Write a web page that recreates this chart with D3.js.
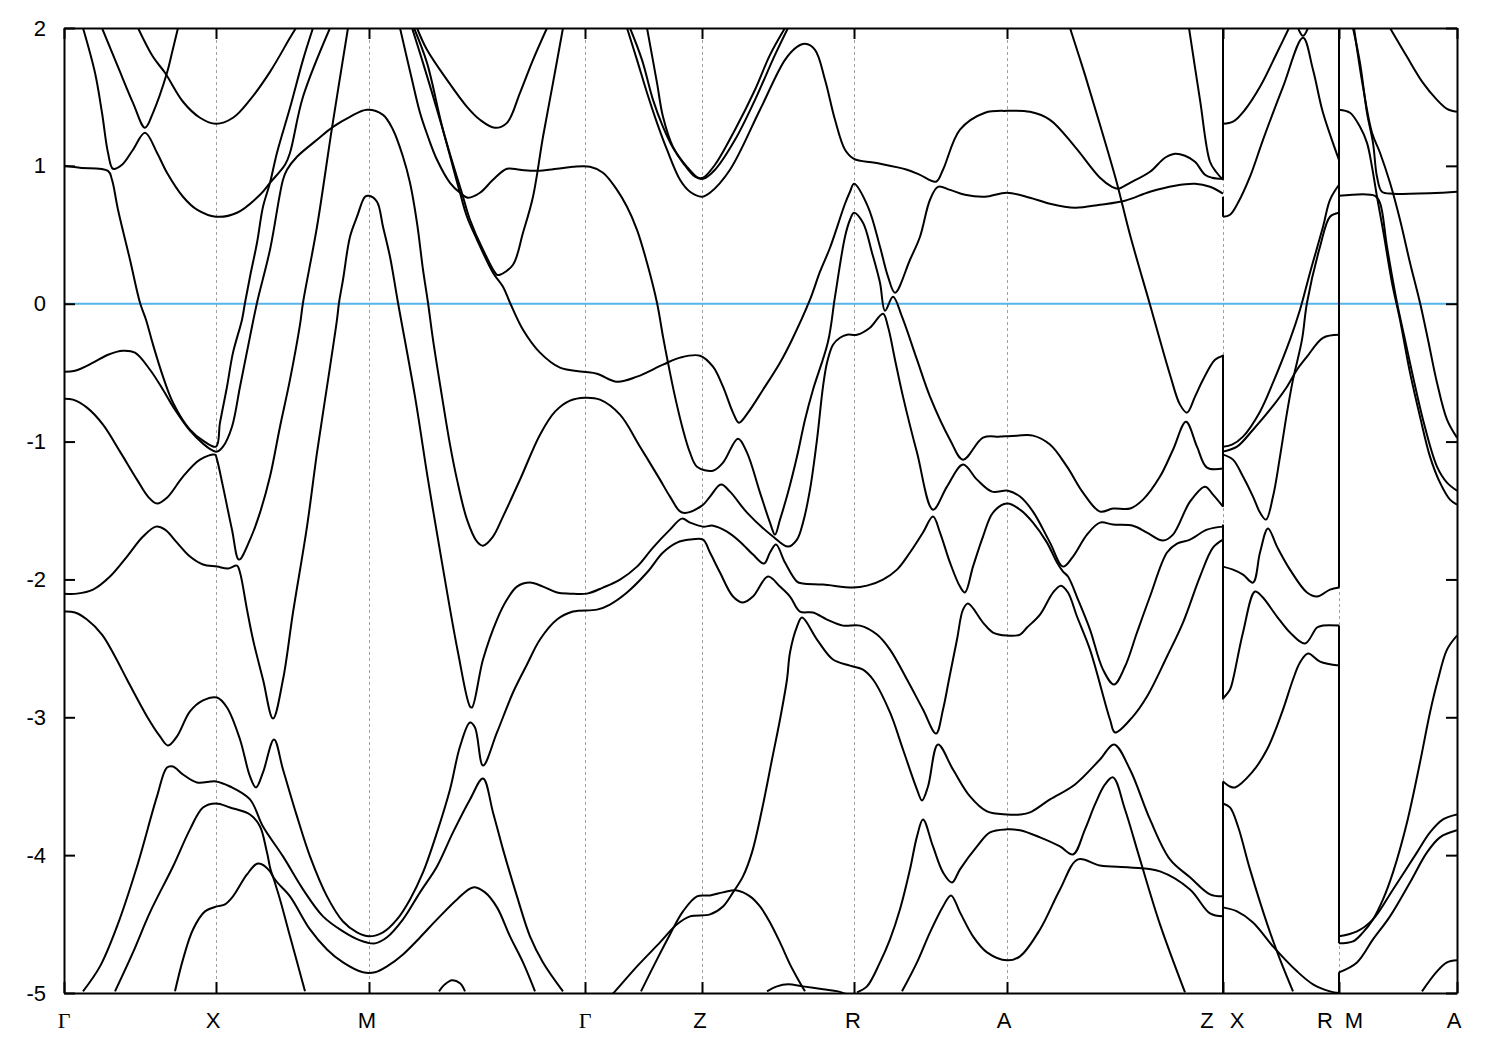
<!DOCTYPE html>
<html>
<head>
<meta charset="utf-8">
<script src="https://cdn.jsdelivr.net/npm/d3@7"></script>
<style>
html,body{margin:0;padding:0;background:#fff}
svg{display:block}
text{font-family:"Liberation Sans",Arial,sans-serif;fill:#000}
</style>
</head>
<body>
<svg id="c" width="1500" height="1050"></svg>
<script>
// k-path coordinate, energy (eV)
const kTicks=[0,152,305,521,638,790,943,1159,1275,1393];
const kLabels=["Γ","X","M","Γ","Z","R","A","Z","X","R","M","A"];
const kLabelPos=[0,149,303,521,636,789,940,1143,1173,1261,1290,1390];
const eTicks=[-5,-4,-3,-2,-1,0,1,2];

const band01=[[0,1],[16,.986],[44,.964],[48,.899],[54,.682],[66,.319],[76,.007],[82,-.116],[89,-.297],[99,-.529],[109,-.718],[126,-.914],[139,-.993],[152,-1.037],[156,-.863],[163,-.602],[169,-.355],[178,-.116],[181,.007],[186,.196],[193,.442],[199,.703],[206,.877],[213,1.095],[226,1.421],[239,1.769],[249,2]];
const band02=[[0,-.493],[11,-.486],[29,-.428],[44,-.37],[59,-.341],[71,-.355],[86,-.479],[99,-.624],[111,-.769],[126,-.921],[139,-1.015],[149,-1.066],[153,-1.073],[159,-1.037],[168,-.892],[176,-.602],[186,-.239],[193,.007],[206,.392],[219,.899],[223,.972],[233,1.066],[253,1.189],[269,1.283],[286,1.356],[303,1.407],[319,1.37],[329,1.262],[339,1.066],[346,.877],[353,.587],[359,.247],[364,.007],[369,-.261],[378,-.674],[386,-1.022],[393,-1.276],[403,-1.566],[413,-1.726],[419,-1.755],[429,-1.689],[439,-1.544],[456,-1.276],[476,-.95],[491,-.783],[506,-.703],[521,-.682],[536,-.696],[556,-.805],[576,-1.037],[596,-1.276],[606,-1.399],[618,-1.515],[638,-1.465],[646,-1.399],[657,-1.312],[666,-1.363],[683,-1.515],[709,-1.689],[724,-1.762],[733,-1.711],[739,-1.588],[746,-1.349],[753,-.986],[759,-.602],[763,-.428],[769,-.297],[776,-.247],[783,-.225],[793,-.225],[806,-.174],[819,-.073],[824,-.167],[831,-.406],[839,-.674],[853,-1.08],[869,-1.494],[883,-1.327],[899,-1.167],[913,-1.276],[928,-1.363],[944,-1.356],[956,-1.399],[969,-1.508],[986,-1.733],[999,-1.907],[1009,-1.834],[1023,-1.675],[1036,-1.588],[1049,-1.602],[1069,-1.61],[1083,-1.66],[1099,-1.718],[1109,-1.675],[1126,-1.436],[1141,-1.327],[1149,-1.385],[1159,-1.472]];
const band03=[[19,2],[31,1.675],[38,1.385],[44,1.095],[49,.979],[58,1.008],[69,1.117],[81,1.24],[93,1.095],[103,.95],[119,.776],[133,.682],[152,.631],[173,.66],[196,.79],[206,.877],[221,1.008],[226,1.095],[239,1.501],[266,2]];
const band04=[[38,2],[54,1.718],[69,1.457],[81,1.276],[89,1.385],[103,1.675],[108,1.82],[114,2]];
const band05=[[74,2],[89,1.791],[101,1.675],[119,1.465],[136,1.349],[152,1.305],[169,1.349],[186,1.479],[206,1.682],[226,1.929],[232,2]];
const band06=[[0,-.689],[9,-.696],[23,-.754],[39,-.877],[56,-1.073],[73,-1.276],[84,-1.399],[93,-1.45],[103,-1.407],[119,-1.254],[136,-1.131],[151,-1.095],[153,-1.131],[159,-1.327],[168,-1.639],[175,-1.856],[186,-1.711],[196,-1.515],[206,-1.254],[216,-.892],[226,-.551],[236,-.152],[239,.007],[253,.558],[268,1.276],[284,2]];
const band07=[[0,-2.103],[13,-2.103],[29,-2.074],[46,-1.979],[63,-1.834],[79,-1.689],[92,-1.617],[101,-1.639],[113,-1.733],[126,-1.834],[139,-1.892],[153,-1.907],[164,-1.921],[173,-1.9],[176,-1.95],[183,-2.219],[189,-2.436],[199,-2.726],[209,-3.009],[219,-2.726],[229,-2.24],[243,-1.617],[253,-1.08],[263,-.602],[273,-.116],[275,.007],[279,.174],[286,.486],[293,.631],[301,.776],[305,.783],[313,.74],[319,.558],[326,.341],[334,.007],[351,-.674],[364,-1.276],[378,-1.878],[394,-2.53],[406,-2.922],[408,-2.929],[419,-2.581],[433,-2.291],[443,-2.146],[453,-2.052],[466,-2.023],[479,-2.052],[493,-2.095],[506,-2.103],[523,-2.103],[539,-2.059],[556,-2.001],[573,-1.907],[589,-1.769],[606,-1.639],[618,-1.559],[626,-1.588],[639,-1.617],[649,-1.61],[663,-1.653],[676,-1.726],[689,-1.82],[700,-1.885],[706,-1.805],[712,-1.747],[721,-1.878],[733,-2.016],[739,-2.03],[759,-2.037],[789,-2.059],[803,-2.045],[819,-2.001],[833,-1.929],[846,-1.805],[859,-1.66],[869,-1.544],[876,-1.66],[886,-1.878],[896,-2.052],[901,-2.095],[909,-1.907],[919,-1.689],[929,-1.515],[943,-1.45],[956,-1.494],[969,-1.588],[983,-1.733],[993,-1.878],[999,-1.943],[1004,-1.979],[1014,-2.146],[1026,-2.364],[1039,-2.654],[1050,-2.762],[1061,-2.632],[1073,-2.385],[1086,-2.124],[1103,-1.805],[1113,-1.74],[1126,-1.711],[1143,-1.639],[1159,-1.617]];
const band08=[[0,-2.233],[11,-2.24],[23,-2.291],[38,-2.4],[51,-2.559],[63,-2.726],[83,-2.994],[96,-3.139],[104,-3.205],[113,-3.139],[126,-2.958],[139,-2.878],[153,-2.857],[163,-2.929],[176,-3.161],[186,-3.429],[192,-3.509],[199,-3.4],[210,-3.161],[219,-3.379],[233,-3.719],[246,-4.009],[263,-4.299],[279,-4.481],[293,-4.56],[305,-4.589],[319,-4.56],[333,-4.466],[346,-4.321],[359,-4.125],[373,-3.835],[386,-3.524],[396,-3.212],[406,-3.038],[411,-3.074],[419,-3.35],[433,-3.11],[449,-2.82],[463,-2.617],[476,-2.436],[493,-2.291],[509,-2.233],[533,-2.219],[546,-2.182],[563,-2.095],[583,-1.95],[599,-1.805],[613,-1.733],[626,-1.711],[639,-1.711],[646,-1.805],[656,-1.95],[669,-2.124],[679,-2.168],[689,-2.124],[704,-1.979],[716,-2.052],[726,-2.124],[736,-2.233],[749,-2.24],[763,-2.291],[779,-2.335],[796,-2.335],[813,-2.4],[826,-2.509],[843,-2.726],[859,-2.944],[872,-3.118],[879,-2.944],[885,-2.726],[893,-2.436],[899,-2.219],[904,-2.175],[919,-2.313],[929,-2.385],[943,-2.407],[956,-2.4],[963,-2.349],[976,-2.255],[989,-2.095],[997,-2.045],[1004,-2.095],[1013,-2.269],[1026,-2.509],[1046,-3.016],[1051,-3.11],[1068,-3.002],[1083,-2.849],[1103,-2.559],[1119,-2.313],[1136,-1.979],[1149,-1.769],[1159,-1.711]];
const band09=[[546,-5.024],[551,-4.988],[573,-4.807],[596,-4.633],[613,-4.502],[626,-4.444],[646,-4.43],[659,-4.372],[669,-4.27],[679,-4.154],[688,-3.98],[698,-3.669],[708,-3.306],[716,-3.016],[723,-2.726],[726,-2.53],[733,-2.342],[738,-2.277],[753,-2.436],[769,-2.581],[786,-2.625],[799,-2.654],[809,-2.726],[826,-2.965],[839,-3.234],[853,-3.524],[858,-3.603],[864,-3.502],[874,-3.197],[889,-3.379],[906,-3.574],[923,-3.683],[943,-3.705],[956,-3.705],[966,-3.69],[986,-3.596],[1011,-3.487],[1036,-3.306],[1050,-3.197],[1066,-3.379],[1086,-3.741],[1106,-4.031],[1126,-4.161],[1146,-4.285],[1159,-4.299]];
const band10=[[577,-4.988],[593,-4.756],[606,-4.575],[619,-4.408],[633,-4.299],[646,-4.292],[659,-4.27],[673,-4.256],[686,-4.299],[696,-4.372],[706,-4.488],[716,-4.633],[726,-4.792],[733,-4.887],[741,-4.988]];
const band11=[[703,-4.988],[713,-4.952],[724,-4.937],[739,-4.952],[759,-4.973],[774,-4.988],[786,-5.02]];
const band12=[[793,-4.995],[803,-4.952],[816,-4.778],[826,-4.611],[836,-4.393],[846,-4.103],[853,-3.864],[859,-3.741],[869,-3.937],[879,-4.125],[888,-4.198],[896,-4.103],[913,-3.937],[926,-3.835],[943,-3.813],[956,-3.82],[976,-3.871],[996,-3.937],[1009,-3.995],[1021,-3.813],[1031,-3.632],[1041,-3.487],[1049,-3.436],[1061,-3.669],[1076,-4.031],[1096,-4.502],[1121,-4.995]];
const band13=[[838,-4.988],[853,-4.778],[866,-4.56],[879,-4.372],[887,-4.292],[896,-4.415],[909,-4.589],[923,-4.705],[943,-4.763],[956,-4.734],[976,-4.539],[996,-4.249],[1014,-4.031],[1036,-4.075],[1066,-4.089],[1096,-4.118],[1126,-4.249],[1146,-4.423],[1159,-4.444]];
const band14=[[111,-4.988],[119,-4.756],[129,-4.539],[141,-4.408],[153,-4.372],[161,-4.357],[169,-4.299],[183,-4.14],[194,-4.06],[206,-4.118],[213,-4.249],[226,-4.589],[241,-4.988]];
const band15=[[51,-4.988],[69,-4.705],[86,-4.415],[109,-4.082],[126,-3.813],[139,-3.654],[152,-3.625],[166,-3.654],[186,-3.705],[196,-3.792],[203,-3.98],[209,-4.154],[226,-4.299],[246,-4.539],[263,-4.684],[279,-4.778],[299,-4.85],[311,-4.85],[323,-4.807],[339,-4.72],[356,-4.597],[373,-4.466],[393,-4.321],[409,-4.234],[421,-4.27],[433,-4.379],[446,-4.589],[459,-4.778],[471,-4.988]];
const band16=[[19,-4.988],[36,-4.807],[53,-4.517],[73,-4.082],[93,-3.574],[103,-3.364],[109,-3.357],[119,-3.415],[133,-3.473],[152,-3.465],[166,-3.502],[186,-3.596],[199,-3.792],[219,-4.009],[239,-4.248],[259,-4.444],[279,-4.553],[296,-4.618],[311,-4.64],[323,-4.596],[339,-4.466],[356,-4.27],[373,-4.082],[389,-3.835],[406,-3.596],[419,-3.444],[429,-3.69],[439,-3.958],[453,-4.299],[466,-4.589],[479,-4.778],[499,-4.988]];
const band17=[[375,-4.988],[381,-4.937],[388,-4.908],[396,-4.93],[401,-4.988]];
const band18=[[336,2],[348,1.624],[356,1.385],[364,1.211],[373,1.044],[386,.877],[396,.805],[404,.769],[416,.805],[429,.899],[443,.979],[456,.971],[473,.964],[493,.979],[509,.993],[526,.993],[539,.95],[553,.826],[563,.703],[573,.536],[583,.297],[593,.007],[599,-.239],[604,-.428],[611,-.674],[619,-.914],[626,-1.08],[633,-1.182],[649,-1.211],[659,-1.153],[674,-.979],[683,-1.08],[696,-1.37],[706,-1.588],[711,-1.675],[716,-1.566],[724,-1.37],[733,-1.109],[741,-.841],[749,-.624],[764,-.276],[771,.051],[781,.486],[786,.609],[790,.66],[799,.587],[808,.37],[816,.152],[821,-.051],[829,.051],[838,-.094],[853,-.406],[866,-.674],[886,-.986],[899,-1.131],[919,-.972],[936,-.964],[953,-.957],[969,-.957],[986,-1.022],[1003,-1.182],[1019,-1.37],[1036,-1.508],[1049,-1.486],[1066,-1.486],[1079,-1.421],[1096,-1.254],[1109,-1.059],[1122,-.856],[1133,-1.037],[1143,-1.189],[1159,-1.196]];
const band19=[[348,2],[359,1.747],[378,1.283],[396,.805],[403,.631],[413,.464],[429,.225],[439,.123],[446,.007],[459,-.189],[476,-.355],[496,-.464],[519,-.493],[533,-.508],[553,-.566],[573,-.529],[599,-.442],[616,-.391],[636,-.377],[649,-.457],[659,-.602],[669,-.79],[675,-.863],[684,-.79],[699,-.624],[716,-.428],[728,-.261],[746,.029],[756,.232],[766,.406],[781,.725],[786,.812],[790,.87],[804,.703],[816,.413],[824,.196],[831,.08],[846,.319],[856,.486],[866,.754],[874,.848],[886,.826],[901,.79],[921,.776],[943,.805],[966,.769],[986,.725],[1011,.696],[1036,.718],[1061,.747],[1086,.812],[1111,.856],[1131,.87],[1146,.848],[1159,.798]];
const band20=[[350,2],[363,1.747],[379,1.262],[399,.776],[406,.609],[419,.392],[433,.21],[436,.21],[449,.283],[459,.515],[469,.776],[479,1.211],[489,1.602],[499,2]];
const band21=[[353,2],[363,1.842],[383,1.624],[403,1.428],[416,1.334],[431,1.276],[443,1.312],[456,1.53],[469,1.769],[483,2]];
const band22=[[563,2],[573,1.769],[583,1.53],[593,1.312],[603,1.117],[616,.899],[626,.812],[638,.776],[646,.805],[666,.972],[696,1.407],[721,1.769],[733,1.863],[741,1.885],[751,1.842],[761,1.624],[771,1.334],[781,1.117],[790,1.051],[811,1.022],[843,.972],[856,.935],[872,.885],[879,.972],[896,1.262],[921,1.385],[943,1.399],[966,1.392],[986,1.334],[1011,1.138],[1036,.914],[1048,.848],[1054,.834],[1066,.877],[1086,.957],[1101,1.059],[1111,1.088],[1121,1.073],[1131,1.03],[1141,.935],[1148,.914],[1159,.906]];
const band23=[[566,2],[578,1.769],[589,1.479],[599,1.283],[609,1.131],[619,1.022],[631,.921],[639,.906],[651,.972],[671,1.189],[691,1.479],[711,1.805],[724,2]];
const band24=[[583,2],[593,1.602],[599,1.356],[609,1.138],[623,.993],[634,.914],[639,.914],[651,1.008],[671,1.262],[691,1.552],[706,1.805],[721,2]];
const band25=[[1006,2],[1021,1.66],[1036,1.298],[1052,.899],[1066,.5],[1086,-.007],[1106,-.515],[1116,-.732],[1123,-.79],[1131,-.674],[1139,-.551],[1151,-.406],[1159,-.377]];
const band26=[[1125,2],[1136,1.479],[1146,1.03],[1152,.957],[1159,.899]];
// X to R
const band27=[[1159,1.305],[1169,1.32],[1181,1.407],[1196,1.573],[1213,1.82],[1225,2]];
const band28=[[1234,2],[1239,1.943],[1244,2]];
const band29=[[1159,.631],[1166,.645],[1174,.732],[1186,.921],[1199,1.189],[1219,1.573],[1239,1.929],[1249,1.697],[1259,1.385],[1275,1.044]];
const band30=[[1159,-1.037],[1168,-1.022],[1179,-.964],[1196,-.783],[1209,-.573],[1226,-.261],[1236,-.044],[1246,.225],[1259,.558],[1266,.754],[1275,.863]];
const band31=[[1159,-1.073],[1173,-1.037],[1189,-.914],[1206,-.769],[1223,-.602],[1233,-.479],[1243,-.384],[1259,-.247],[1275,-.225]];
const band32=[[1159,-1.095],[1169,-1.131],[1179,-1.254],[1189,-1.399],[1196,-1.515],[1202,-1.566],[1209,-1.399],[1216,-1.109],[1223,-.79],[1229,-.551],[1238,-.261],[1243,.007],[1256,.413],[1266,.631],[1275,.66]];
const band33=[[1159,-1.907],[1169,-1.929],[1179,-1.965],[1189,-2.023],[1196,-1.805],[1204,-1.631],[1213,-1.762],[1226,-1.929],[1243,-2.095],[1253,-2.124],[1266,-2.074],[1275,-2.059]];
const band34=[[1159,-2.864],[1166,-2.799],[1169,-2.726],[1179,-2.385],[1191,-2.088],[1198,-2.124],[1213,-2.269],[1226,-2.385],[1241,-2.465],[1253,-2.349],[1259,-2.335],[1275,-2.335]];
const band35=[[1159,-3.466],[1166,-3.502],[1171,-3.509],[1188,-3.4],[1203,-3.234],[1218,-2.965],[1229,-2.726],[1236,-2.603],[1244,-2.538],[1256,-2.596],[1275,-2.625]];
const band36=[[1159,-3.625],[1166,-3.654],[1174,-3.792],[1186,-4.103],[1204,-4.517],[1216,-4.756],[1229,-4.988]];
const band37=[[1159,-4.379],[1173,-4.408],[1189,-4.488],[1209,-4.662],[1233,-4.843],[1249,-4.937],[1266,-4.988],[1275,-5]];
// M to A
const band38=[[1326,2],[1343,1.791],[1359,1.602],[1373,1.479],[1383,1.414],[1393,1.392]];
const band39=[[1275,1.407],[1286,1.385],[1296,1.283],[1303,1.167],[1308,.993],[1313,.776],[1319,.536],[1328,.152],[1336,-.116],[1346,-.5],[1356,-.819],[1366,-1.109],[1376,-1.298],[1386,-1.421],[1393,-1.457]];
const band40=[[1289,2],[1296,1.747],[1303,1.385],[1309,1.167],[1313,.921],[1318,.812],[1329,.798],[1379,.805],[1393,.812]];
const band41=[[1275,.783],[1311,.783],[1316,.732],[1323,.413],[1333,.007],[1341,-.261],[1349,-.529],[1359,-.841],[1373,-1.182],[1383,-1.298],[1393,-1.356]];
const band42=[[1290,2],[1299,1.573],[1308,1.24],[1316,1.095],[1326,.877],[1336,.609],[1346,.297],[1356,.007],[1364,-.261],[1373,-.573],[1383,-.841],[1393,-.972]];
const band43=[[1275,-4.85],[1293,-4.778],[1309,-4.611],[1326,-4.444],[1346,-4.198],[1363,-3.98],[1376,-3.871],[1393,-3.82]];
const band44=[[1275,-4.64],[1289,-4.626],[1299,-4.56],[1309,-4.466],[1319,-4.321],[1329,-4.125],[1343,-3.763],[1356,-3.328],[1366,-2.965],[1374,-2.726],[1383,-2.509],[1393,-2.407]];
const band45=[[1275,-4.589],[1293,-4.553],[1309,-4.466],[1329,-4.249],[1353,-3.98],[1366,-3.835],[1379,-3.741],[1393,-3.705]];
const band46=[[1358,-4.988],[1373,-4.843],[1383,-4.778],[1393,-4.763]];
// path discontinuities: energy spans joined by the plotted line
const jumpsAtZX=[[2,.899],[.776,.631],[-.37,-1.472],[-1.602,-2.871],[-3.466,-5]];
const jumpsAtRM=[[2,-2.059],[-2.335,-4.64],[-4.85,-5]];

const bands=[band01,band02,band03,band04,band05,band06,band07,band08,band09,band10,band11,band12,band13,band14,band15,band16,band17,band18,band19,band20,band21,band22,band23,band24,band25,band26,band27,band28,band29,band30,band31,band32,band33,band34,band35,band36,band37,band38,band39,band40,band41,band42,band43,band44,band45,band46];

const svg=d3.select("#c");
const L=64,R=1457,T=28,B=993,FS=22;
const x=d3.scaleLinear().domain([0,1393]).range([L,R]);
const y=d3.scaleLinear().domain([-5,2]).range([B,T]);

svg.append("defs").append("clipPath").attr("id","plot").append("rect")
  .attr("x",L).attr("y",T).attr("width",R-L).attr("height",B-T);

// dotted verticals
svg.append("g").selectAll("line").data(kTicks.slice(1,-1)).join("line")
  .attr("x1",d=>x(d)+.5).attr("x2",d=>x(d)+.5).attr("y1",T).attr("y2",B)
  .attr("stroke","#a0a0a0").attr("stroke-width",1).attr("stroke-dasharray","3,3");

const plot=svg.append("g").attr("clip-path","url(#plot)");
// zero line
plot.append("line").attr("x1",L).attr("x2",R).attr("y1",y(0)).attr("y2",y(0))
  .attr("stroke","#56b4e9").attr("stroke-width",2);

const line=d3.line().x(d=>x(d[0])).y(d=>y(d[1])).curve(d3.curveCatmullRom.alpha(0.5));
plot.append("g").selectAll("path").data(bands).join("path")
  .attr("d",line).attr("fill","none").attr("stroke","#000").attr("stroke-width",2);

// vertical jumps
const jumps=[...jumpsAtZX.map(j=>[kTicks[7],j]),...jumpsAtRM.map(j=>[kTicks[8],j])];
plot.append("g").selectAll("line").data(jumps).join("line")
  .attr("x1",d=>x(d[0])).attr("x2",d=>x(d[0]))
  .attr("y1",d=>y(d[1][0])).attr("y2",d=>y(d[1][1]))
  .attr("stroke","#000").attr("stroke-width",2);

// axes
function style(g){
  g.selectAll(".domain").attr("stroke","#000").attr("stroke-width",2);
  g.selectAll(".tick line").attr("stroke","#000").attr("stroke-width",2);
  g.selectAll("text").style("font-size",FS+"px").style("font-family",'"Liberation Sans",Arial,sans-serif').attr("fill","#000");
}
svg.append("g").attr("transform",`translate(${L},0)`)
  .call(d3.axisLeft(y).tickValues(eTicks).tickSizeInner(-11).tickSizeOuter(0).tickPadding(18).tickFormat(d=>String(d))).call(style);
svg.append("g").attr("transform",`translate(${R},0)`)
  .call(d3.axisRight(y).tickValues(eTicks).tickSizeInner(-11).tickSizeOuter(0).tickFormat("")).call(style);
svg.append("g").attr("transform",`translate(0,${B})`)
  .call(d3.axisBottom(x).tickValues(kTicks).tickSizeInner(-11).tickSizeOuter(0).tickFormat("")).call(style);
svg.append("g").attr("transform",`translate(0,${T})`)
  .call(d3.axisTop(x).tickValues(kTicks).tickSizeInner(-11).tickSizeOuter(0).tickFormat("")).call(style);

// path labels
svg.append("g").selectAll("text").data(kLabels).join("text")
  .attr("x",(d,i)=>x(kLabelPos[i])).attr("y",1028)
  .attr("text-anchor","middle").style("font-size",FS+"px")
  .style("font-family",d=>d==="Γ"?'"Liberation Serif",serif':'"Liberation Sans",Arial,sans-serif')
  .text(d=>d);
</script>
</body>
</html>
